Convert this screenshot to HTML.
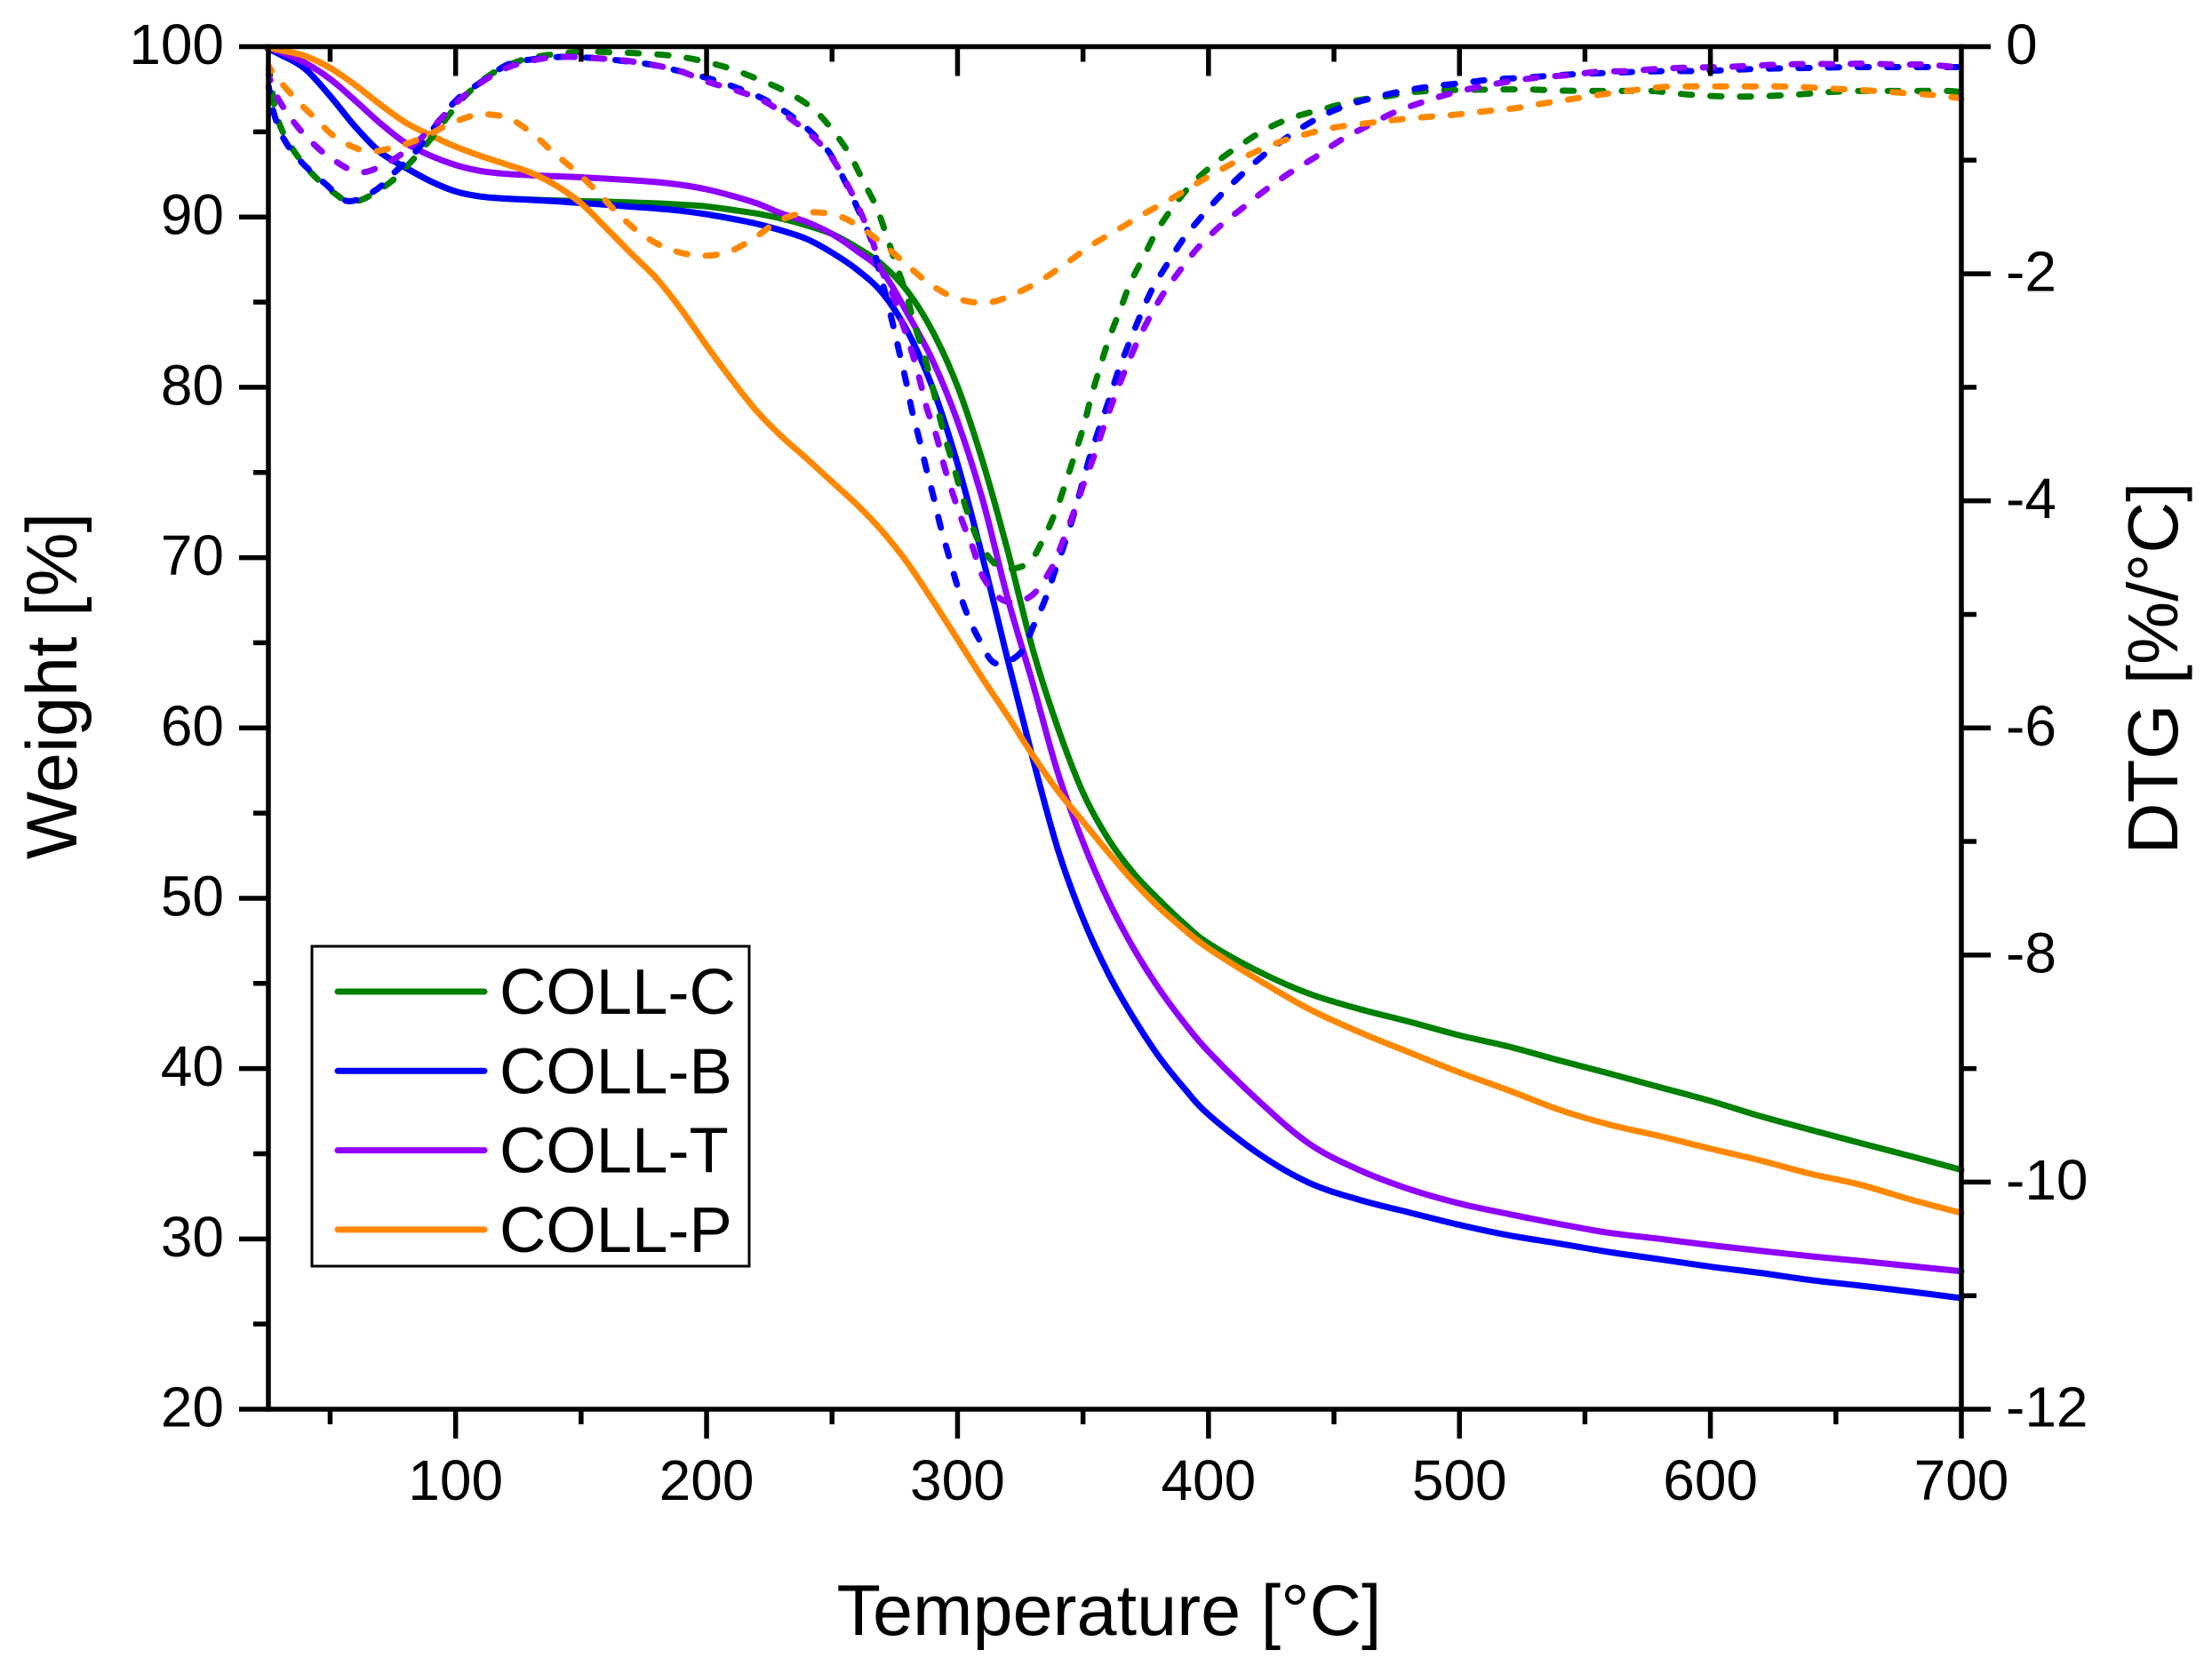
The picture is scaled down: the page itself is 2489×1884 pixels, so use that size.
<!DOCTYPE html>
<html lang="en">
<head>
<meta charset="utf-8">
<title>TGA and DTG curves</title>
<style>
html,body{margin:0;padding:0;background:#fff;}
svg{display:block;}
text{font-family:"Liberation Sans",Arial,sans-serif;fill:#000;}
</style>
</head>
<body>
<svg id="chart" xmlns="http://www.w3.org/2000/svg" width="2489" height="1884" viewBox="0 0 2489 1884"></svg>
<script>
// ---- tick values ----
const xMajorTicks = [100,200,300,400,500,600,700];
const xMinorTicks = [50,150,250,350,450,550,650];
const weightMajorTicks = [20,30,40,50,60,70,80,90,100];
const weightMinorTicks = [25,35,45,55,65,75,85,95];
const dtgMajorTicks = [0,-2,-4,-6,-8,-10,-12];
const dtgMinorTicks = [-1,-3,-5,-7,-9,-11];
const xDomain = [25.4,700];
const weightDomain = [20,100];
const dtgDomain = [-12,0];

// ---- weight curves (shared temperature grid) ----
const weightTemps = [25,30,40,50,60,70,80,90,100,110,120,130,140,150,160,170,180,190,200,210,220,230,240,250,260,270,280,290,300,310,320,330,340,350,360,370,380,390,400,420,440,460,480,500,520,540,560,580,600,620,640,660,680,700];
const weightC = [99.9,99.55,98.7,97.1,95.3,93.8,92.9,92.1,91.5,91.2,91.08,91.02,90.97,90.93,90.9,90.85,90.8,90.72,90.62,90.42,90.2,89.9,89.5,89,88.2,87.2,85.65,83.3,80.05,75.65,70.4,64.6,60,56.2,53.5,51.5,49.95,48.55,47.35,45.7,44.4,43.5,42.75,41.95,41.28,40.47,39.7,38.9,38.1,37.2,36.4,35.62,34.85,34.05];
const weightB = [99.9,99.55,98.7,97.1,95.3,93.8,92.9,92.1,91.5,91.2,91.08,91,90.92,90.82,90.72,90.6,90.5,90.36,90.16,89.9,89.6,89.2,88.7,87.9,86.9,85.55,83.3,80,75.5,70,64,58.2,52.85,48.8,45.6,43,40.75,38.9,37.3,35,33.3,32.3,31.55,30.82,30.2,29.72,29.22,28.8,28.37,28,27.58,27.25,26.9,26.52];
const weightT = [99.95,99.7,99.05,98.1,96.83,95.5,94.35,93.6,93.05,92.7,92.53,92.45,92.39,92.33,92.25,92.16,92.05,91.88,91.62,91.25,90.8,90.2,89.7,89,88,86.8,84.35,81.6,78,73.4,67.6,62.6,57.35,53.3,49.9,47.1,44.75,42.75,41,38.1,35.6,34.05,32.92,32.08,31.45,30.87,30.35,30,29.63,29.3,28.98,28.7,28.4,28.1];
const weightP = [99.95,99.8,99.45,98.75,97.75,96.6,95.55,94.8,94.13,93.58,93.1,92.6,91.85,90.8,89.35,87.85,86.4,84.55,82.45,80.45,78.6,77.1,75.8,74.45,73.1,71.55,69.7,67.5,65.2,62.9,60.7,58.4,56.3,54.5,52.7,51,49.5,48.2,47.05,45.2,43.5,42.15,40.95,39.77,38.7,37.57,36.7,36.03,35.3,34.6,33.82,33.17,32.3,31.52];

// ---- DTG curves (temperature and value pairs per sample) ----
const dtgTempsC = [25.5,26.7,27.5,30.5,36.4,44,52.9,57,63.5,74.2,82.4,91.3,97.8,104.9,114.3,126.1,138,150.9,162.7,174.5,186.3,197,209,219.8,230.7,241.5,249.7,256.9,262.3,267.7,271.8,275.4,279.6,282.5,286,289.1,292,295,298.4,301.5,305.5,310,317.5,328,334.5,339.5,343.4,346.9,350.4,353.3,356.8,360.4,364.6,368.9,374.2,379.5,386.3,393.8,403,412.5,423.5,434.2,445.8,457.6,470,481.9,492.6,504.4,516.2,528.4,540.3,552.3,563.4,576.3,588.1,600,611.8,623.6,635.8,647.2,659,670.8,682.6,694.4,700];
const dtgC = [-0.2,-0.31,-0.49,-0.72,-0.945,-1.146,-1.31,-1.36,-1.34,-1.19,-1.01,-0.78,-0.59,-0.41,-0.24,-0.12,-0.07,-0.045,-0.05,-0.06,-0.08,-0.12,-0.19,-0.28,-0.385,-0.53,-0.72,-0.945,-1.18,-1.415,-1.67,-1.91,-2.18,-2.42,-2.67,-2.91,-3.18,-3.44,-3.69,-3.93,-4.2,-4.42,-4.59,-4.55,-4.32,-4.07,-3.82,-3.58,-3.33,-3.08,-2.82,-2.57,-2.33,-2.08,-1.85,-1.62,-1.40,-1.2,-1.02,-0.87,-0.72,-0.62,-0.55,-0.48,-0.44,-0.40,-0.385,-0.38,-0.377,-0.377,-0.387,-0.39,-0.39,-0.39,-0.416,-0.434,-0.44,-0.434,-0.42,-0.40,-0.39,-0.39,-0.39,-0.39,-0.4];
const dtgTempsB = [25.5,27.5,31.6,38.7,48.2,57,67.7,75.3,84.8,99,109.6,120.5,129.5,142.1,154.8,166.5,178.3,189.1,200.9,211.7,222.6,232.5,241.5,248.8,255,260.5,265.4,268.3,271.4,274.3,277,279.6,282,284.9,287.7,290.6,293.4,296.6,299.8,303.7,308.6,315,324.6,330.3,334.9,338.8,342.3,346.2,349.7,352.9,356.5,360.4,364,368.2,372.8,377.7,383.7,390.1,397.5,405.2,413.8,422.8,432.5,442.8,453.5,465.8,477.6,489,501.2,512.6,524.8,537,548.4,560.9,572.7,584.5,596.7,608.1,620,632.1,644,655.8,667.6,679.4,691.2,700];
const dtgB = [-0.35,-0.58,-0.815,-1.02,-1.21,-1.36,-1.27,-1.115,-0.906,-0.5,-0.32,-0.16,-0.115,-0.09,-0.1,-0.125,-0.16,-0.215,-0.28,-0.36,-0.46,-0.59,-0.75,-0.93,-1.18,-1.44,-1.69,-1.93,-2.19,-2.45,-2.71,-2.96,-3.22,-3.47,-3.73,-3.98,-4.24,-4.49,-4.74,-4.99,-5.22,-5.43,-5.35,-5.1,-4.87,-4.62,-4.4,-4.13,-3.85,-3.6,-3.36,-3.11,-2.86,-2.62,-2.37,-2.13,-1.91,-1.69,-1.49,-1.30,-1.115,-0.94,-0.78,-0.64,-0.53,-0.45,-0.39,-0.35,-0.32,-0.29,-0.275,-0.255,-0.24,-0.23,-0.22,-0.215,-0.215,-0.205,-0.195,-0.19,-0.185,-0.18,-0.18,-0.18,-0.18,-0.18];
const dtgTempsT = [25.5,28.1,34,41.7,50.5,61.8,73,82.4,91.3,99.5,108.4,119,130.8,142.7,154.5,166.3,178.1,189.3,200.5,211.7,222.6,232.5,241.5,249.3,256,261,265.9,269.6,274.3,277.8,281.4,284.9,287.7,291.6,294.5,298,301.9,306.2,310.4,318.6,329.2,337.3,341.9,346.2,350.1,354,357.9,361.8,366,370.6,375.9,381.6,388.3,395.8,404.6,413.6,422.8,432.5,442.8,452.9,463.2,473.9,485.1,496.9,508.7,520,531.9,544.1,555.5,567.3,579.5,591.4,603.2,615,627.2,639,650.8,662.6,674.7,686.3,697.6,700];
const dtgT = [-0.25,-0.41,-0.62,-0.82,-0.985,-1.107,-1.02,-0.88,-0.70,-0.51,-0.345,-0.2,-0.12,-0.09,-0.1,-0.12,-0.158,-0.215,-0.31,-0.385,-0.476,-0.62,-0.776,-0.96,-1.21,-1.44,-1.70,-1.96,-2.19,-2.42,-2.66,-2.93,-3.18,-3.43,-3.68,-3.93,-4.18,-4.42,-4.68,-4.88,-4.84,-4.6,-4.36,-4.11,-3.86,-3.63,-3.37,-3.13,-2.89,-2.65,-2.41,-2.19,-1.98,-1.77,-1.58,-1.42,-1.26,-1.11,-0.97,-0.82,-0.70,-0.58,-0.49,-0.41,-0.35,-0.306,-0.27,-0.25,-0.22,-0.215,-0.195,-0.185,-0.18,-0.17,-0.158,-0.153,-0.153,-0.15,-0.158,-0.158,-0.18,-0.18];
const dtgTempsP = [25.5,28.1,35.8,44,52.9,64.7,76.5,87.1,97.8,109,120.4,130,138.9,148,156.5,164.7,174,184.8,196.7,208.5,219.3,229.2,240.6,252.4,262.3,272.5,281,290.2,301.5,313.2,324.6,334.5,344.4,354,364,374.5,384.8,394.9,405.6,416.4,427.5,438.9,450.7,463,474.3,486.2,498,509.8,521.6,533.4,545.2,557,568.8,580.6,592.4,604.2,616,627.8,639.7,651.9,663.9,676,687.6,698.3,700];
const dtgP = [-0.17,-0.254,-0.45,-0.63,-0.81,-0.92,-0.88,-0.80,-0.68,-0.60,-0.625,-0.755,-0.93,-1.10,-1.28,-1.47,-1.65,-1.78,-1.84,-1.81,-1.68,-1.53,-1.46,-1.49,-1.605,-1.78,-1.945,-2.11,-2.23,-2.25,-2.16,-2.04,-1.89,-1.74,-1.61,-1.47,-1.345,-1.21,-1.076,-0.95,-0.846,-0.77,-0.71,-0.675,-0.645,-0.62,-0.60,-0.57,-0.544,-0.50,-0.46,-0.42,-0.385,-0.356,-0.35,-0.35,-0.35,-0.35,-0.36,-0.374,-0.387,-0.406,-0.424,-0.45,-0.46];

// ---- legend ----
const legendLabels = ['COLL-C','COLL-B','COLL-T','COLL-P'];

// ---- layout ----
const NS = 'http://www.w3.org/2000/svg';
const svg = document.getElementById('chart');
const plotL = 302, plotR = 2207, plotT = 52.5, plotB = 1586;
const GREEN = '#008000', BLUE = '#0000ff', PURPLE = '#8f00ff', ORANGE = '#ff8800';
const AXW = 5.5, MAJ = 33, MIN = 17;

function xScale(v){ return plotL + (v - xDomain[0]) / (xDomain[1] - xDomain[0]) * (plotR - plotL); }
function yWeight(v){ return plotB - (v - weightDomain[0]) / (weightDomain[1] - weightDomain[0]) * (plotB - plotT); }
function yDtg(v){ return plotB - (v - dtgDomain[0]) / (dtgDomain[1] - dtgDomain[0]) * (plotB - plotT); }

function mk(tag, attrs, parent){
  const e = document.createElementNS(NS, tag);
  for (const k in attrs) e.setAttribute(k, attrs[k]);
  (parent || svg).appendChild(e);
  return e;
}
function smoothPath(xs, ys, sx, sy){
  const p = xs.map((x,i)=>[sx(x), sy(ys[i])]);
  let d = 'M' + p[0][0].toFixed(2) + ' ' + p[0][1].toFixed(2);
  for (let i = 0; i < p.length - 1; i++){
    const a = p[Math.max(i-1,0)], b = p[i], c = p[i+1], e = p[Math.min(i+2,p.length-1)];
    const c1x = b[0] + (c[0]-a[0])/6, c1y = b[1] + (c[1]-a[1])/6;
    const c2x = c[0] - (e[0]-b[0])/6, c2y = c[1] - (e[1]-b[1])/6;
    d += 'C' + c1x.toFixed(2) + ' ' + c1y.toFixed(2) + ' ' + c2x.toFixed(2) + ' ' + c2y.toFixed(2) + ' ' + c[0].toFixed(2) + ' ' + c[1].toFixed(2);
  }
  return d;
}
function tickLine(x1,y1,x2,y2,name){
  const l = mk('line',{x1:x1,y1:y1,x2:x2,y2:y2,stroke:'#000','stroke-width':AXW});
  
  
  return l;
}
function label(x,y,txt,size,anchor,name){
  const t = mk('text',{x:x,y:y,'font-size':size,'text-anchor':anchor});
  t.textContent = txt;
  
  
  return t;
}

// ---- solid weight curves ----
const solidSeries = [['weight-curve-coll-c',weightC,GREEN],['weight-curve-coll-b',weightB,BLUE],['weight-curve-coll-t',weightT,PURPLE],['weight-curve-coll-p',weightP,ORANGE]];
solidSeries.forEach(function(s){
  const path = mk('path',{d:smoothPath(weightTemps,s[1],xScale,yWeight),fill:'none',stroke:s[2],'stroke-width':7,'stroke-linejoin':'round','stroke-linecap':'round'});
  
  
});

// ---- dashed DTG curves ----
const dashSeries = [['dtg-curve-coll-c',dtgTempsC,dtgC,GREEN],['dtg-curve-coll-b',dtgTempsB,dtgB,BLUE],['dtg-curve-coll-t',dtgTempsT,dtgT,PURPLE],['dtg-curve-coll-p',dtgTempsP,dtgP,ORANGE]];
dashSeries.forEach(function(s){
  const path = mk('path',{d:smoothPath(s[1],s[2],xScale,yDtg),fill:'none',stroke:s[3],'stroke-width':7,'stroke-dasharray':'12.5 20.8','stroke-dashoffset':6,'stroke-linecap':'round','stroke-linejoin':'round'});
  
  
});

// ---- axes frame ----
tickLine(plotL, plotT, plotR, plotT, 'top-axis-line');
tickLine(plotL, plotB, plotR, plotB, 'x-axis-line');
tickLine(plotL, plotT-2.7, plotL, plotB+2.7, 'weight-axis-line');
tickLine(plotR, plotT-2.7, plotR, plotB+2.7, 'dtg-axis-line');

// ---- x ticks, bottom outward, top inward ----
xMajorTicks.forEach(function(v){
  tickLine(xScale(v), plotB, xScale(v), plotB+MAJ, 'x-major-tick');
  if (v !== 700) tickLine(xScale(v), plotT, xScale(v), plotT+MAJ, 'top-major-tick');
  label(xScale(v), 1688, String(v), 64, 'middle', 'x-tick-label');
});
xMinorTicks.forEach(function(v){
  tickLine(xScale(v), plotB, xScale(v), plotB+MIN, 'x-minor-tick');
  tickLine(xScale(v), plotT, xScale(v), plotT+MIN, 'top-minor-tick');
});

// ---- weight ticks ----
weightMajorTicks.forEach(function(v){
  tickLine(plotL, yWeight(v), plotL-MAJ, yWeight(v), 'weight-major-tick');
  label(252, yWeight(v)+19.5, String(v), 64, 'end', 'weight-tick-label');
});
weightMinorTicks.forEach(function(v){
  tickLine(plotL, yWeight(v), plotL-MIN, yWeight(v), 'weight-minor-tick');
});

// ---- DTG ticks ----
dtgMajorTicks.forEach(function(v){
  tickLine(plotR, yDtg(v), plotR+MAJ, yDtg(v), 'dtg-major-tick');
  label(2257, yDtg(v)+19.5, String(v), 64, 'start', 'dtg-tick-label');
});
dtgMinorTicks.forEach(function(v){
  tickLine(plotR, yDtg(v), plotR+MIN, yDtg(v), 'dtg-minor-tick');
});

// ---- axis titles ----
label(1248, 1840, 'Temperature [°C]', 81, 'middle', 'x-axis-title');
const wt = label(0, 0, 'Weight [%]', 81, 'middle', 'y-axis-title');
wt.setAttribute('transform', 'translate(86,772) rotate(-90)');
const dt = label(0, 0, 'DTG [%/°C]', 80, 'middle', 'right-axis-title');
dt.setAttribute('transform', 'translate(2450,752) rotate(-90)');

// ---- legend ----
const legendBox = mk('rect',{x:351,y:1065,width:492,height:360,fill:'#fff',stroke:'#000','stroke-width':3});


const legendColors = [GREEN,BLUE,PURPLE,ORANGE];
legendLabels.forEach(function(name,i){
  const y = 1116 + i*89.3;
  const l = mk('line',{x1:380,y1:y,x2:545,y2:y,stroke:legendColors[i],'stroke-width':7,'stroke-linecap':'round'});
  
  
  label(562, y+25, name, 72.5, 'start', 'legend-entry');
});
</script>
</body>
</html>
